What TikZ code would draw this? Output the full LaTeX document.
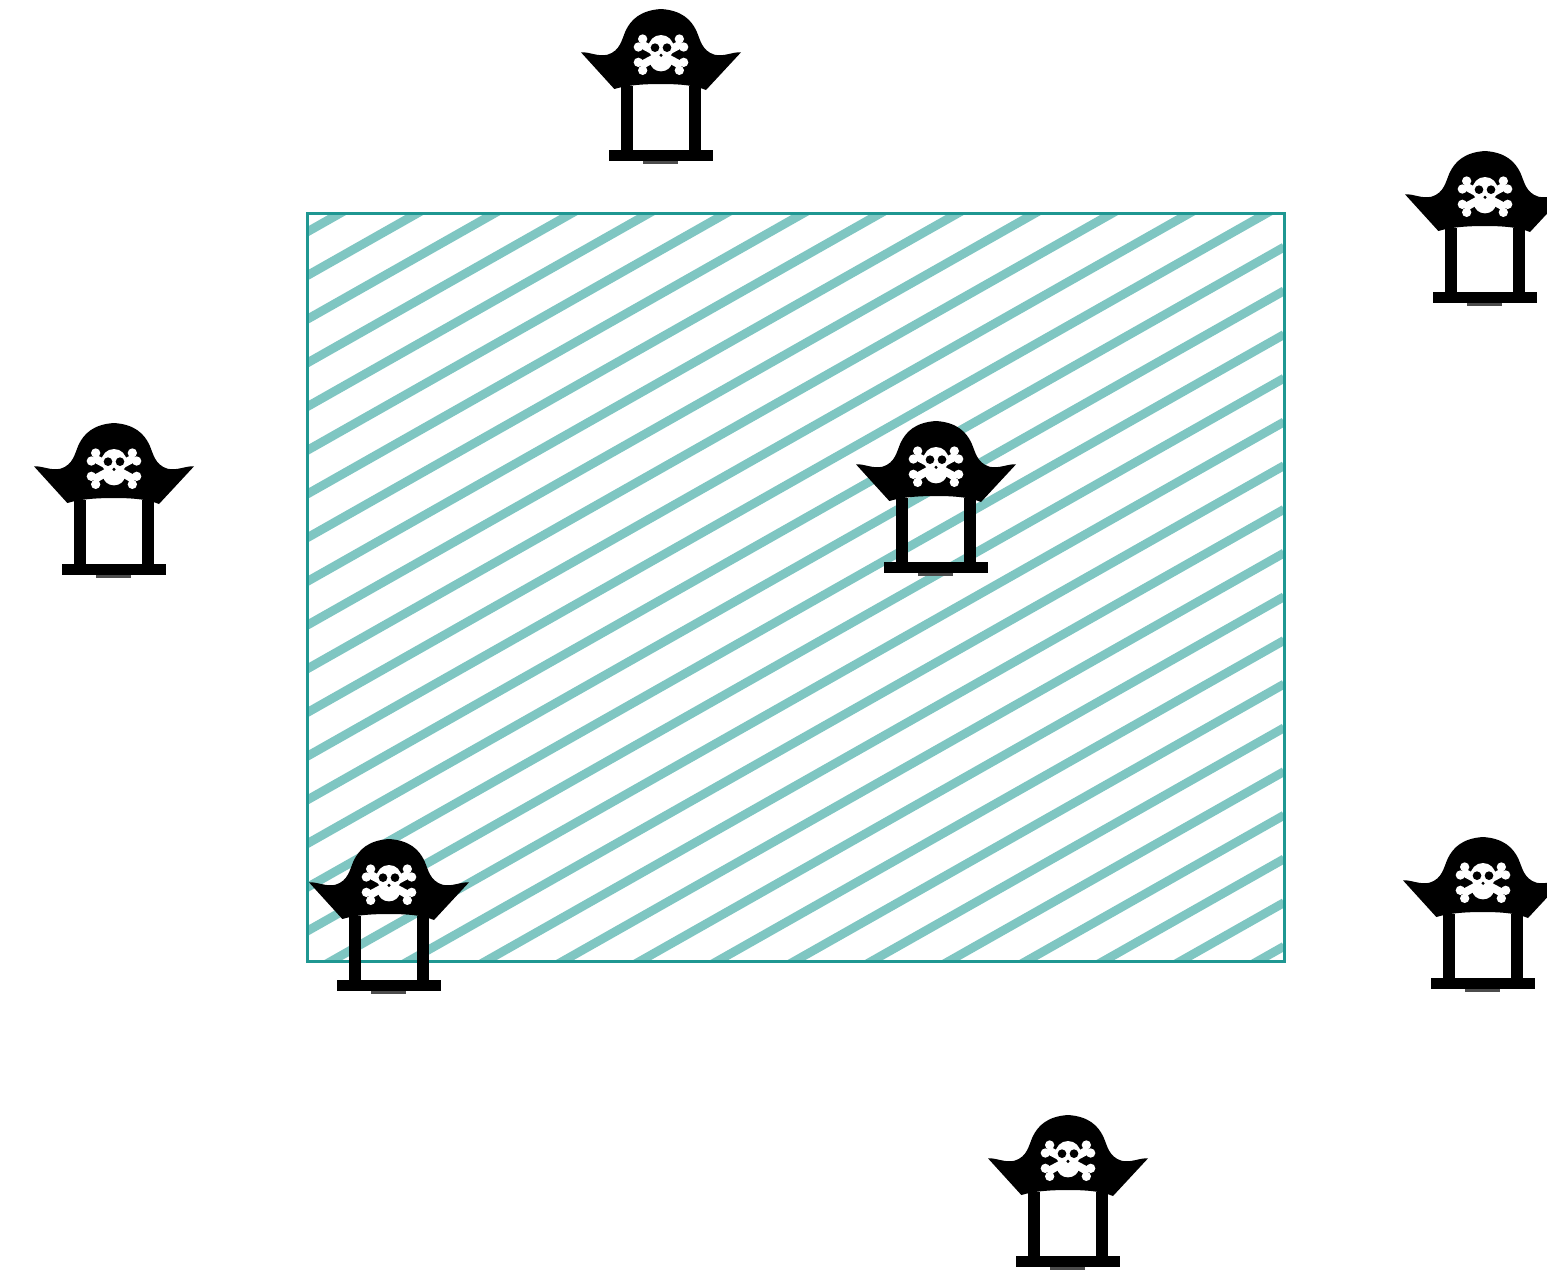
\documentclass[tikz,border=0pt]{standalone}
\definecolor{hatchteal}{HTML}{7FC6C2}
\definecolor{frameteal}{HTML}{1F9792}
\tikzset{
  pirateblack/.style={fill=black, draw=none},
  piratewhite/.style={fill=white, draw=none},
  pirate/.pic={
    \begin{scope}[scale=1/3]
      % hat
      \path[pirateblack] (0,0) .. controls (-62,4) and (-90,32) .. (-106,65)
        .. controls (-118,92) and (-122,125) .. (-160,137)
        .. controls (-190,144) and (-215,128) .. (-240,130)
        -- (-140,240) .. controls (-100,228) and (-50,225) .. (0,225)
        .. controls (50,225) and (100,228) .. (135,243)
        -- (240,130) .. controls (215,128) and (190,144) .. (160,137)
        .. controls (122,125) and (118,92) .. (106,65)
        .. controls (90,32) and (62,4) .. (0,0) -- cycle;
      % legs and base
      \path[pirateblack] (-120,230) rectangle (-85,425);
      \path[pirateblack] (85,230) rectangle (120,425);
      \path[pirateblack] (-155,422) rectangle (155,457);
      \path[fill=black!70] (-53,457) rectangle (50,466);
      % bones
      \draw[white, line width=4pt] (-62,104) -- (62,170);
      \draw[white, line width=4pt] (62,104) -- (-62,170);
      \foreach \bx/\by in {-68/114, -55/90, 68/114, 55/90, -68/160, -55/184, 68/160, 55/184}
        \path[piratewhite] (\bx,\by) circle (14);
      % skull
      \path[piratewhite] (0,116) circle (38);
      \path[piratewhite] (0,160) ellipse (32 and 27);
      \path[pirateblack] (-18,116) circle (13);
      \path[pirateblack] (18,116) circle (13);
      \path[pirateblack] (0,139) circle (5);
    \end{scope}
  }
}
\begin{document}
\begin{tikzpicture}[x=0.5pt, y=-0.5pt]
    \clip (0,0) rectangle (1547,1270);
    \path[fill=white] (0,0) rectangle (1547,1270);
    % hatched field
    \begin{scope}
        \clip (307,213) rectangle (1284,961);
        \foreach \k in {-1,...,29}
            \draw[hatchteal, line width=4.4pt] (307,232+\k*43.7) -- (1284,232+\k*43.7-553);
    \end{scope}
    \draw[frameteal, line width=1.5pt] (307,213) rectangle (1284,961);
    % pirates
    \pic at (661,9) {pirate};
    \pic at (1485,151) {pirate};
    \pic at (114,423) {pirate};
    \pic at (936,421) {pirate};
    \pic at (389,839) {pirate};
    \pic at (1483,837) {pirate};
    \pic at (1068,1115) {pirate};
\end{tikzpicture}
\end{document}
